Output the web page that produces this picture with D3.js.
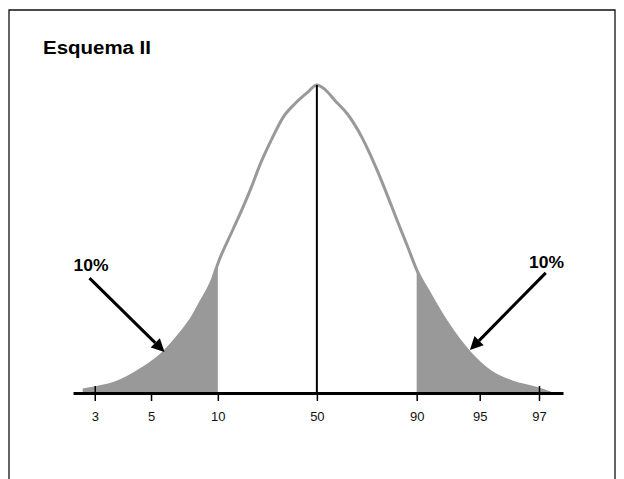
<!DOCTYPE html>
<html>
<head>
<meta charset="utf-8">
<script src="https://cdn.jsdelivr.net/npm/d3@7"></script>
<style>
  html, body { margin: 0; padding: 0; background: #fff; }
  svg { display: block; }
</style>
</head>
<body>
<svg id="chart" width="624" height="479"></svg>
<script>
// ---- data (x in standard-deviation units, y as relative height, peak = 1) ----
const title = "Esquema II";
const curveZ = [-3.12, -2.89, -2.72, -2.53, -2.32, -2.05, -1.83, -1.65, -1.56, -1.39, -1.32, -1.12, -0.99, -0.87, -0.76, -0.59, -0.45, -0.29, -0.13, 0,
                0.11, 0.24, 0.41, 0.60, 0.71, 0.80, 0.95, 1.07, 1.21, 1.33, 1.51, 1.73, 2.04, 2.31, 2.61, 2.93, 3.11];
const curveH = [0.01, 0.02, 0.03, 0.05, 0.08, 0.13, 0.19, 0.25, 0.29, 0.37, 0.42, 0.53, 0.60, 0.67, 0.74, 0.83, 0.895, 0.94, 0.975, 1.00,
                0.985, 0.95, 0.905, 0.83, 0.775, 0.725, 0.635, 0.56, 0.475, 0.40, 0.32, 0.23, 0.13, 0.07, 0.035, 0.015, 0.00];
const tickLabels = ["3", "5", "10", "50", "90", "95", "97"];
const tickZ = [-2.96, -2.21, -1.32, 0, 1.33, 2.17, 2.96];
const lowerCut = -1.32;   // percentile 10
const upperCut = 1.33;    // percentile 90
const tailLabels = ["10%", "10%"];
const labelZ = [-3.01, 3.06];
const labelH = [0.396, 0.406];
const arrowFromZ = [-3.03, 3.05];
const arrowFromH = [0.373, 0.39];
const arrowToZ = [-2.03, 2.04];
const arrowToH = [0.133, 0.14];

// ---- drawing ----
const svg = d3.select("#chart");
const x = d3.scaleLinear().domain([-3.25, 3.28]).range([73, 563]);
const y = d3.scaleLinear().domain([0, 1]).range([393, 85]);

const pts = curveZ.map((z, i) => ({ z, h: curveH[i] }));
const gray = "#999999";

// frame
svg.append("path")
  .attr("d", "M9,482 V10 H615 V482")
  .attr("fill", "none").attr("stroke", "#111").attr("stroke-width", 1.3);

// title
svg.append("text")
  .attr("x", 43).attr("y", 54)
  .attr("font-family", "Liberation Sans, Arial, sans-serif")
  .attr("font-weight", "bold").attr("font-size", 18)
  .attr("textLength", 108).attr("lengthAdjust", "spacingAndGlyphs")
  .attr("fill", "#000")
  .text(title);

// shaded tails
const area = d3.area().x(d => x(d.z)).y0(y(0)).y1(d => y(d.h)).curve(d3.curveMonotoneX);
svg.append("path").datum(pts.filter(d => d.z <= lowerCut))
  .attr("d", area).attr("fill", gray);
svg.append("path").datum(pts.filter(d => d.z >= upperCut))
  .attr("d", area).attr("fill", gray);

// curve
const line = d3.line().x(d => x(d.z)).y(d => y(d.h)).curve(d3.curveMonotoneX);
svg.append("path").datum(pts)
  .attr("d", line).attr("fill", "none").attr("stroke", gray).attr("stroke-width", 3)
  .attr("stroke-linejoin", "round");

// center line at 50
svg.append("line")
  .attr("x1", x(0)).attr("x2", x(0))
  .attr("y1", y(1)).attr("y2", y(0))
  .attr("stroke", "#000").attr("stroke-width", 2);

// axis
const axis = d3.axisBottom(x)
  .tickValues(tickZ)
  .tickFormat((d, i) => tickLabels[i])
  .tickSize(8).tickSizeOuter(0).tickPadding(11);
const gAxis = svg.append("g").attr("transform", `translate(0,${y(0)})`).call(axis);
gAxis.attr("font-size", 13).attr("font-family", "Liberation Sans, Arial, sans-serif");
gAxis.select(".domain").attr("stroke", "#000").attr("stroke-width", 3);
gAxis.selectAll(".tick line").attr("stroke", "#000").attr("stroke-width", 1.5)
  .attr("y1", (d, i) => (i === 0 || i === tickZ.length - 1) ? -7 : 0);
gAxis.selectAll(".tick text").attr("fill", "#111");

// arrows
arrowFromZ.forEach((fz, i) => {
  const x1 = x(fz), y1 = y(arrowFromH[i]);
  const x2 = x(arrowToZ[i]), y2 = y(arrowToH[i]);
  const ang = Math.atan2(y2 - y1, x2 - x1);
  const headL = 13, headW = 6.5;
  const bx = x2 - headL * Math.cos(ang), by = y2 - headL * Math.sin(ang);
  svg.append("line")
    .attr("x1", x1).attr("y1", y1).attr("x2", bx).attr("y2", by)
    .attr("stroke", "#000").attr("stroke-width", 3);
  const px = -Math.sin(ang), py = Math.cos(ang);
  svg.append("polygon")
    .attr("points", [[x2, y2], [bx + headW * px, by + headW * py], [bx - headW * px, by - headW * py]]
      .map(p => p.join(",")).join(" "))
    .attr("fill", "#000");
});

// tail labels
tailLabels.forEach((t, i) => {
  svg.append("text")
    .attr("x", x(labelZ[i])).attr("y", y(labelH[i]))
    .attr("text-anchor", "middle")
    .attr("font-family", "Liberation Sans, Arial, sans-serif")
    .attr("font-weight", "bold").attr("font-size", 16)
    .attr("textLength", 35).attr("lengthAdjust", "spacingAndGlyphs")
    .attr("fill", "#000")
    .text(t);
});
</script>
</body>
</html>
